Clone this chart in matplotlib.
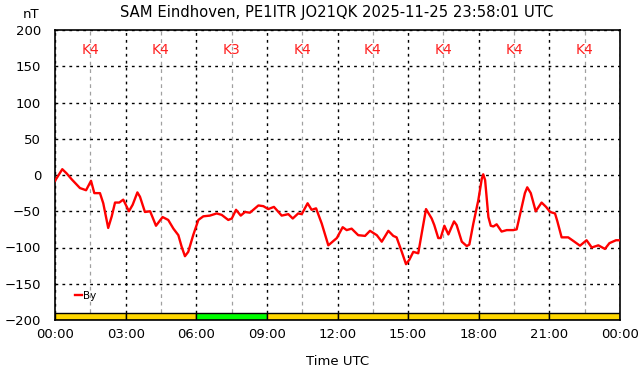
import matplotlib
matplotlib.use("Agg")
import matplotlib.pyplot as plt
from matplotlib.ticker import MultipleLocator

# ---- data ----
hours = [0.00, 0.31, 0.50, 0.71, 1.06, 1.32, 1.53, 1.67, 1.91, 2.05, 2.26, 2.41, 2.55, 2.73, 2.90,
         3.14, 3.30, 3.50, 3.61, 3.82, 4.04, 4.29, 4.57, 4.81, 5.03, 5.24, 5.38, 5.52, 5.66, 5.87,
         6.09, 6.30, 6.58, 6.87, 7.08, 7.36, 7.51, 7.69, 7.89, 8.07, 8.28, 8.64, 8.85, 9.06, 9.30,
         9.63, 9.91, 10.10, 10.33, 10.48, 10.73, 10.90, 11.09, 11.33, 11.61, 11.97, 12.22, 12.39,
         12.60, 12.88, 13.17, 13.38, 13.67, 13.88, 14.16, 14.37, 14.51, 14.73, 14.91, 15.05, 15.22,
         15.43, 15.58, 15.76, 16.00, 16.11, 16.28, 16.38, 16.54, 16.71, 16.95, 17.06, 17.28, 17.49,
         17.60, 17.77, 17.98, 18.13, 18.19, 18.27, 18.41, 18.51, 18.62, 18.76, 18.97, 19.19, 19.47,
         19.61, 19.75, 19.96, 20.06, 20.21, 20.42, 20.67, 20.86, 21.03, 21.24, 21.34, 21.52, 21.80,
         22.02, 22.30, 22.58, 22.80, 23.08, 23.36, 23.55, 23.83, 23.97]
by_nT = [-8, 8, 2, -6, -18, -21, -8, -25, -25, -39, -73, -57, -38, -38, -34,
         -50, -41, -24, -30, -51, -50, -70, -58, -62, -74, -83, -99, -112, -106, -83,
         -62, -57, -56, -53, -55, -62, -60, -48, -56, -51, -52, -42, -43, -47, -44,
         -56, -54, -60, -53, -54, -39, -48, -46, -67, -97, -87, -72, -76,
         -74, -83, -84, -77, -83, -92, -77, -84, -86, -106, -123, -117, -106,
         -108, -80, -47, -60, -69, -87, -87, -70, -82, -64, -69, -92, -98,
         -96, -67, -35, -5, 1, -7, -58, -70, -71, -68, -78, -76, -76,
         -75, -55, -25, -17, -25, -50, -38, -44, -51, -53, -64, -86, -86,
         -91, -97.5, -90, -100, -97, -102, -94, -90, -90]

k_start_hours = [0, 3, 6, 9, 12, 15, 18, 21]
k_values = [4, 4, 3, 4, 4, 4, 4, 4]
x_tick_labels = ["00:00", "03:00", "06:00", "09:00", "12:00", "15:00", "18:00", "21:00", "00:00"]
title = "SAM Eindhoven, PE1ITR JO21QK 2025-11-25 23:58:01 UTC"

k_colors = {3: "#00ff00", 4: "#ffd700"}

fig = plt.figure(figsize=(6.42, 3.76), dpi=100)
ax = fig.add_axes([55/642, 56/376, 565/642, 290/376])

ax.set_xlim(0, 24)
ax.set_ylim(-200, 200)

# grid
ax.xaxis.set_major_locator(MultipleLocator(3))
ax.xaxis.set_minor_locator(MultipleLocator(1.5))
ax.yaxis.set_major_locator(MultipleLocator(50))
ax.grid(which="major", axis="both", color="black", linestyle=(0, (2, 3)), linewidth=1.0)
ax.grid(which="minor", axis="x", color="#a0a0a0", linestyle=(0, (3, 3)), linewidth=0.9)
ax.set_axisbelow(True)

# K-index bar
for h0, k in zip(k_start_hours, k_values):
    ax.bar(h0, 9, width=3, bottom=-200, align="edge", color=k_colors[k],
           edgecolor="black", linewidth=1.0, zorder=1.5)
    ax.text(h0 + 1.5, 172, f"K{k}", color="#ff2020", fontsize=10,
            ha="center", va="center", zorder=3)

ax.plot(hours, by_nT, color="red", linewidth=1.7, label="By", zorder=4)

ax.set_xticks(range(0, 25, 3))
ax.set_xticklabels(x_tick_labels)
ax.tick_params(axis="both", which="both", length=0, labelsize=9.5, pad=6, colors="black")
ax.tick_params(axis="y", pad=10)
for s in ax.spines.values():
    s.set_linewidth(1.2)
    s.set_color("black")

ax.set_xlabel("Time UTC", fontsize=9.5, labelpad=10)
fig.text(337/642, 1 - 12/376, title, ha="center", va="center", fontsize=10.6)
fig.text(31/642, 1 - 15/376, "nT", ha="center", va="center", fontsize=9.5)

leg = ax.legend(loc="lower left", bbox_to_anchor=(0.022, 0.04), frameon=False,
                fontsize=7.5, handlelength=0.7, handletextpad=0.1, borderaxespad=0.3)

fig.savefig("out.png", dpi=100)
